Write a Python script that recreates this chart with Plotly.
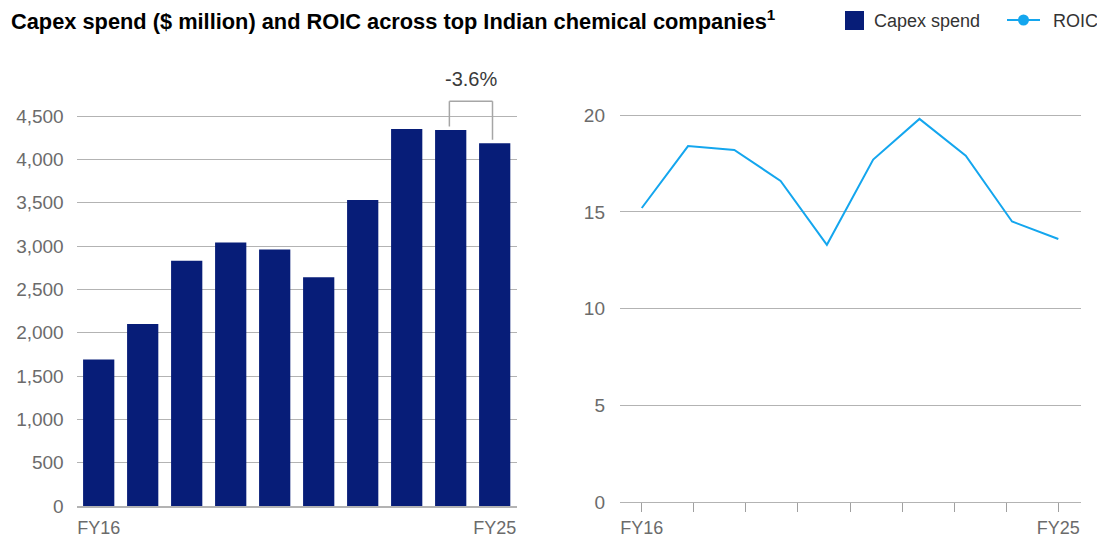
import plotly.graph_objects as go

# --- data -------------------------------------------------------------
years = ["FY16", "FY17", "FY18", "FY19", "FY20", "FY21", "FY22", "FY23", "FY24", "FY25"]
capex_spend = [1690, 2100, 2830, 3040, 2960, 2640, 3530, 4350, 4340, 4185]  # $ million
roic = [15.2, 18.4, 18.2, 16.6, 13.3, 17.7, 19.8, 17.9, 14.5, 13.6]  # %
capex_ticks = [0, 500, 1000, 1500, 2000, 2500, 3000, 3500, 4000, 4500]
roic_ticks = [0, 5, 10, 15, 20]
change_label = "-3.6%"

# --- layout helpers (pixel -> paper) ---------------------------------
W, H = 1097, 537


def px(x):
    return x / W


def py(y):
    return 1 - y / H


NAVY = "#071d78"
BLUE = "#14a6ee"
GRID = "#b3b3b3"
TICK_GREY = "#6b6b6b"
FONT = "Liberation Sans, Arial, sans-serif"

fig = go.Figure()

fig.add_trace(go.Bar(
    x=years, y=capex_spend, marker_color=NAVY, marker_line_width=0,
    xaxis="x", yaxis="y", showlegend=False, name="Capex spend",
))

n = len(roic)
fig.add_trace(go.Scatter(
    x=list(range(n)), y=roic, mode="lines", line=dict(color=BLUE, width=2),
    xaxis="x2", yaxis="y2", showlegend=False, name="ROIC",
))

num_font = dict(family=FONT, size=19, color=TICK_GREY)
cat_font = dict(family=FONT, size=18, color=TICK_GREY)

# bottom ticks of the ROIC panel: evenly spaced marks between first and last year
n_marks = 9
roic_minor = [i * (n - 1) / (n_marks - 1) for i in range(n_marks)]

fig.update_layout(
    width=W, height=H,
    margin=dict(l=0, r=0, t=0, b=0),
    paper_bgcolor="white", plot_bgcolor="white",
    bargap=0.29,
    font=dict(family=FONT),
    xaxis=dict(
        domain=[px(76.7), px(516.7)], range=[-0.5, 9.5],
        tickvals=[years[0], years[-1]], ticks="", tickfont=cat_font,
        ticklabelstandoff=4, automargin=False,
        showgrid=False, showline=True, linecolor=GRID, linewidth=2,
        zeroline=False, fixedrange=True,
    ),
    yaxis=dict(
        domain=[py(506), py(72.7)], range=[0, 5000],
        tickvals=capex_ticks, tickformat=",", tickfont=num_font,
        ticklabelstandoff=12, automargin=False,
        showgrid=True, gridcolor=GRID, gridwidth=1,
        zeroline=False, showline=False, fixedrange=True,
    ),
    xaxis2=dict(
        domain=[px(620), px(1081)], range=[-0.47, 9.49],
        tickvals=[0, n - 1], ticktext=[years[0], years[-1]],
        ticks="outside", ticklen=9, tickcolor="#a0a0a0", tickwidth=1,
        minor=dict(tickvals=roic_minor, ticks="outside", ticklen=9,
                   tickcolor="#a0a0a0", tickwidth=1, showgrid=False),
        tickfont=cat_font, ticklabelstandoff=0, automargin=False,
        showgrid=False, showline=True, linecolor=GRID, linewidth=1,
        zeroline=False, anchor="y2", fixedrange=True,
    ),
    yaxis2=dict(
        domain=[py(502.3), py(107.3)], range=[0, 20.4],
        tickvals=roic_ticks, tickfont=num_font, ticklabelstandoff=14,
        automargin=False,
        showgrid=True, gridcolor=GRID, gridwidth=1,
        zeroline=False, showline=False, anchor="x2", fixedrange=True,
    ),
)

# bracket showing change between the last two years
bracket_top = 4670
gap = 40
i_a, i_b = n - 2, n - 1
bracket = dict(color="#a6a6a6", width=1.5)
fig.add_shape(type="line", xref="x", yref="y", x0=i_a - 0.03, x1=i_a - 0.03,
              y0=capex_spend[i_a] + gap, y1=bracket_top, line=bracket)
fig.add_shape(type="line", xref="x", yref="y", x0=i_b - 0.05, x1=i_b - 0.05,
              y0=capex_spend[i_b] + gap, y1=bracket_top, line=bracket)
fig.add_shape(type="line", xref="x", yref="y", x0=i_a - 0.03, x1=i_b - 0.05,
              y0=bracket_top, y1=bracket_top, line=bracket)
fig.add_annotation(xref="x", yref="y", x=(i_a + i_b) / 2 - 0.04, y=bracket_top,
                   text=change_label, showarrow=False, yanchor="bottom", yshift=9,
                   font=dict(family=FONT, size=20, color="#3a3a3a"))

# title
fig.add_annotation(xref="paper", yref="paper", x=px(9), y=py(20),
                   xanchor="left", yanchor="middle", showarrow=False,
                   text="<b>Capex spend ($ million) and ROIC across top Indian chemical companies<sup>1</sup></b>",
                   font=dict(family=FONT, size=21.8, color="#000000"))

# legend
fig.add_shape(type="rect", xref="paper", yref="paper",
              x0=px(845), x1=px(864), y0=py(30), y1=py(11),
              fillcolor=NAVY, line_width=0)
fig.add_annotation(xref="paper", yref="paper", x=px(872), y=py(21),
                   xanchor="left", yanchor="middle", showarrow=False,
                   text="Capex spend", font=dict(family=FONT, size=18, color="#333333"))
fig.add_shape(type="line", xref="paper", yref="paper",
              x0=px(1007), x1=px(1040), y0=py(20), y1=py(20),
              line=dict(color=BLUE, width=2))
fig.add_shape(type="circle", xref="paper", yref="paper",
              x0=px(1018), x1=px(1029), y0=py(25.5), y1=py(14.5),
              fillcolor=BLUE, line_width=0)
fig.add_annotation(xref="paper", yref="paper", x=px(1051), y=py(21),
                   xanchor="left", yanchor="middle", showarrow=False,
                   text="ROIC", font=dict(family=FONT, size=18, color="#333333"))

fig.write_html("out.html")
